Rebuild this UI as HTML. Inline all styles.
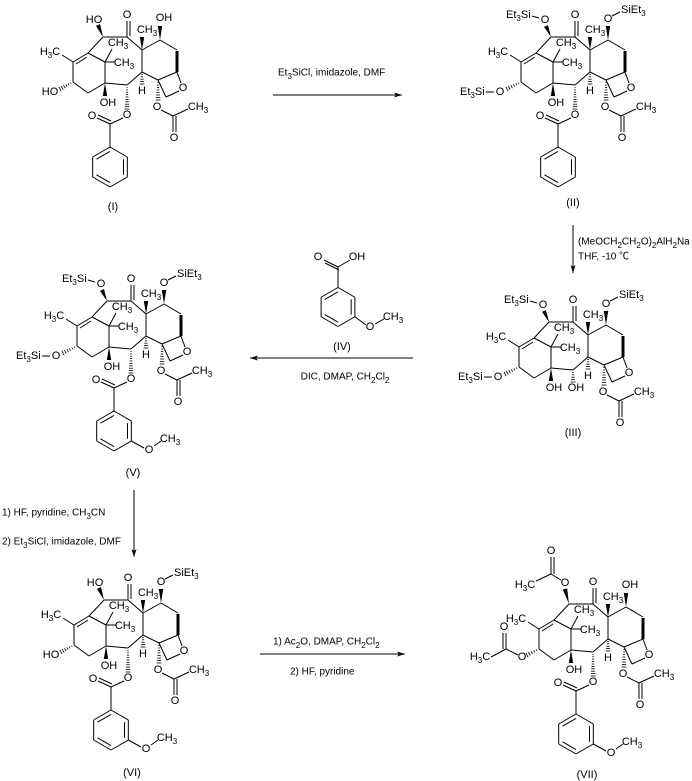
<!DOCTYPE html>
<html><head><meta charset="utf-8">
<style>
html,body{margin:0;padding:0;background:#fff;}
svg{display:block;}
text{font-family:"Liberation Sans","Noto Sans CJK SC",sans-serif;fill:#000;}
</style></head>
<body>
<svg id="s" xmlns="http://www.w3.org/2000/svg" width="692" height="781" viewBox="0 0 692 781"></svg>
<script>
var S=document.getElementById('s');var out='';
function L(x1,y1,x2,y2,w){out+='<line x1="'+x1+'" y1="'+y1+'" x2="'+x2+'" y2="'+y2+'" stroke="#000" stroke-width="'+(w||1)+'"/>';}
function T(x,y,s,sz,anc){sz=sz||11;out+='<text x="'+x+'" y="'+y+'" font-size="'+sz+'" text-anchor="'+(anc||'middle')+'" dominant-baseline="central">'+s+'</text>';}
function sub(n){return '<tspan font-size="8" baseline-shift="-3">'+n+'</tspan>';}
function W(x1,y1,x2,y2){var dx=x2-x1,dy=y2-y1,l=Math.hypot(dx,dy),px=-dy/l*2.2,py=dx/l*2.2;
 out+='<polygon points="'+x1+','+y1+' '+(x2+px)+','+(y2+py)+' '+(x2-px)+','+(y2-py)+'" fill="#000"/>';}
function H(x1,y1,x2,y2){var dx=x2-x1,dy=y2-y1,l=Math.hypot(dx,dy),n=Math.max(3,Math.round(l/2.5));
 for(var i=1;i<=n;i++){var t=i/n,cx=x1+dx*t,cy=y1+dy*t,w=0.4+2*t,px=-dy/l*w,py=dx/l*w;L(cx+px,cy+py,cx-px,cy-py,0.8);}}
function D(x1,y1,x2,y2,ox,oy){L(x1,y1,x2,y2);L(x1+ox,y1+oy,x2+ox,y2+oy);}
function ring(cx,cy,r){var p=[];for(var i=0;i<6;i++){var a=-Math.PI/2+i*Math.PI/3;p.push([cx+r*Math.cos(a),cy+r*Math.sin(a)]);}
 for(var i=0;i<6;i++){var a=p[i],b=p[(i+1)%6];L(a[0],a[1],b[0],b[1]);}
 [1,3,5].forEach(function(i){var a=p[i],b=p[(i+1)%6];var ri=0.78;L(cx+(a[0]-cx)*ri,cy+(a[1]-cy)*ri,cx+(b[0]-cx)*ri,cy+(b[1]-cy)*ri);});return p;}
var CH3='CH'+sub(3),H3C='H'+sub(3)+'C',Et3Si='Et'+sub(3)+'Si',SiEt3='SiEt'+sub(3);
function core(ox,oy,o){
 var l=function(a,b,c,d,w){L(a+ox,b+oy,c+ox,d+oy,w);},t=function(x,y,s,sz,an){T(x+ox,y+oy,s,sz,an);},
 w=function(a,b,c,d){W(a+ox,b+oy,c+ox,d+oy);},h=function(a,b,c,d){H(a+ox,b+oy,c+ox,d+oy);};
 l(103,37,127,37);l(127,37,142,50);l(127,37,127,21);l(130,36,130,21);
 l(142,50,160,40);l(160,40,177,50);l(177,51,177,72,3);l(177,72,181,83);l(179,91,166,97);l(166,97,158,80);l(158,80,177,72);
 l(142,50,142,72);l(142,72,158,80);l(142,72,127,85);l(127,85,105,83);l(105,83,105,62);l(105,62,88,53);l(103,37,88,53);
 l(88,53,73,62);l(87,57,76,64);l(73,62,73,82);l(73,82,88,93);l(88,93,105,83);l(73,62,62,55);t(50,52,H3C);
 l(105,62,112,49);t(118,43,CH3);l(105,62,115,62);t(124,63,CH3);
 t(127,15,'O');t(183,88,'O');
 w(142,50,142,37);t(147,30,CH3);
 w(160,40,160,26);w(105,83,105,96);t(108,103,'OH');
 h(142,72,142,84);t(142,91,'H');
 h(158,80,158,100);t(157,107,'O');l(161,110,173,116);l(173,116,188,109);t(198,107,CH3);l(173,116,173,132);l(176,116,176,132);t(174,138,'O');
 if(o.c7=='OH'){t(164,18,'OH');} else {t(160,19,'O');l(164,16,172,12);t(173,10,SiEt3,11,'start');}
 if(o.c10=='OH'){w(103,37,98,25);t(94,20,'HO');}
 else if(o.c10=='Si'){w(103,37,98,26);t(97,20,'O');l(91,18,84,16);t(58,15,Et3Si,11,'start');}
 else {w(103,37,99,22);t(99,16,'O');l(95,13,85,7);l(85,7,85,-10);l(88,7,88,-10);t(85,-16,'O');l(85,7,70,14);t(59,18,H3C);}
 if(o.c13=='OH'){h(73,82,60,89);t(50,92,'HO');}
 else if(o.c13=='Si'){h(73,82,59,89);t(52,92,'O');l(38,92,46,92);t(12,92,Et3Si,11,'start');}
 else {h(73,82,61,88);t(56,90,'O');l(52,88,40,82);l(40,82,40,66);l(37,82,37,66);t(38,60,'O');l(40,82,25,90);t(14,90,H3C);}
 if(o.c2=='OH'){h(127,85,127,97);t(130,103,'OH');}
 else {h(127,85,127,109);t(127,115,'O');l(123,118,110,124);l(110,124,97,118);l(111,121,98,115);t(92,116,'O');l(110,124,110,147);
  var p=ring(110+ox,167+oy,20);
  if(o.ome){L(p[2][0],p[2][1],140+ox,184+oy);t(145,186,'O');l(150,182,157,177);t(166,175,CH3);}}
 t(o.lx,o.ly,o.lab);
}
core(0,0,{c7:'OH',c10:'OH',c13:'OH',c2:'Bz',lab:'(I)',lx:113,ly:207});
core(448,0,{c7:'Si',c10:'Si',c13:'Si',c2:'Bz',lab:'(II)',lx:125,ly:203});
core(446,285,{c7:'Si',c10:'Si',c13:'Si',c2:'OH',lab:'(III)',lx:127,ly:148});
core(4,264,{c7:'Si',c10:'Si',c13:'Si',c2:'Bz',ome:1,lab:'(V)',lx:129,ly:209});
core(1,563,{c7:'Si',c10:'OH',c13:'OH',c2:'Bz',ome:1,lab:'(VI)',lx:131,ly:210});
core(466,567,{c7:'OH',c10:'Ac',c13:'Ac',c2:'Bz',ome:1,lab:'(VII)',lx:121,ly:208});
var q=ring(338,307,19.5);L(338,288,338,267);D(338,267,324,260,1,3);T(318,257,'O');L(338,267,350,260);T(357,257,'OH');
L(q[2][0],q[2][1],366,325);T(370,327,'O');L(375,324,384,319);T(393,317,CH3);T(342,347,'(IV)');
function arrowH(x1,x2,y){L(x1,y,x2,y);var d=x2>x1?1:-1;out+='<polygon points="'+x2+','+y+' '+(x2-8*d)+','+(y-2.5)+' '+(x2-6*d)+','+y+' '+(x2-8*d)+','+(y+2.5)+'" fill="#000"/>';}
function arrowV(x,y1,y2){L(x,y1,x,y2);out+='<polygon points="'+x+','+y2+' '+(x-2.5)+','+(y2-8)+' '+x+','+(y2-6)+' '+(x+2.5)+','+(y2-8)+'" fill="#000"/>';}
arrowH(273,402,95);T(278,73,'Et'+sub(3)+'SiCl, imidazole, DMF',10,'start');
arrowV(573,225,273);T(578,242,'(MeOCH'+sub(2)+'CH'+sub(2)+'O)'+sub(2)+'AlH'+sub(2)+'Na',10,'start');T(578,257,'THF, -10 ℃',10,'start');
arrowH(413,250,358);T(345,377,'DIC, DMAP, CH'+sub(2)+'Cl'+sub(2),10);
arrowV(134,490,557);T(2,513,'1) HF, pyridine, CH'+sub(3)+'CN',10,'start');T(2,542,'2) Et'+sub(3)+'SiCl, imidazole, DMF',10,'start');
arrowH(260,405,654);T(273,642,'1) Ac'+sub(2)+'O, DMAP, CH'+sub(2)+'Cl'+sub(2),10,'start');T(290,672,'2) HF, pyridine',10,'start');
S.innerHTML=out;
</script>
</body></html>
